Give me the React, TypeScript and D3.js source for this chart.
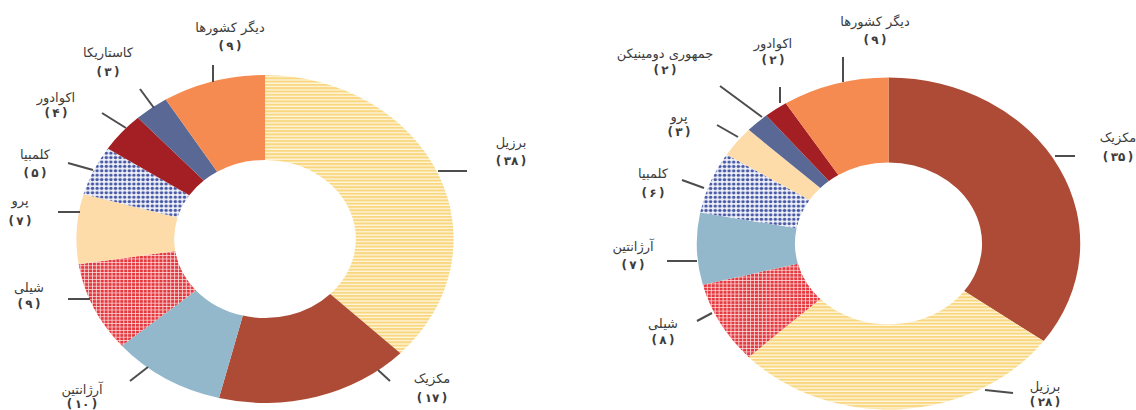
import React from "react";
import * as d3 from "d3";

// ---------- data ----------
const leftCategories = ["برزیل", "مکزیک", "آرژانتین", "شیلی", "پرو", "کلمبیا", "اکوادور", "کاستاریکا", "دیگر کشورها"];
const leftValues = [38, 17, 10, 9, 7, 5, 4, 3, 9];

const rightCategories = ["مکزیک", "برزیل", "شیلی", "آرژانتین", "کلمبیا", "پرو", "جمهوری دومینیکن", "اکوادور", "دیگر کشورها"];
const rightValues = [35, 28, 8, 7, 6, 3, 2, 2, 9];

// ---------- styles ----------
const fills: Record<string, string> = {
  "برزیل": "url(#pBrazil)",
  "مکزیک": "#AD4B36",
  "آرژانتین": "#93B8CC",
  "شیلی": "url(#pChile)",
  "پرو": "#FDDCAA",
  "کلمبیا": "url(#pColombia)",
  "اکوادور": "#A41F24",
  "کاستاریکا": "#5A6895",
  "جمهوری دومینیکن": "#5A6895",
  "دیگر کشورها": "#F58B50",
};

// label layout: leader line [x1,y1,x2,y2], text x, name y, number y
type Lab = { line: number[]; x: number; ny: number; vy: number };
const leftLayout: Lab[] = [
  { line: [438, 171, 467, 171], x: 511, ny: 142, vy: 161 },
  { line: [378, 370, 390, 381], x: 432, ny: 378, vy: 398 },
  { line: [148, 367, 130, 381], x: 82, ny: 389, vy: 404 },
  { line: [90, 299, 68, 299], x: 29, ny: 287, vy: 304 },
  { line: [80, 212, 58, 212], x: 20, ny: 200, vy: 221 },
  { line: [93, 170, 68, 163], x: 35, ny: 154, vy: 173 },
  { line: [126, 128, 102, 113], x: 56, ny: 97, vy: 113 },
  { line: [154, 108, 140, 89], x: 108, ny: 52, vy: 72 },
  { line: [213, 82, 213, 65], x: 230, ny: 27, vy: 46 },
];
const rightLayout: Lab[] = [
  { line: [1055, 156, 1075, 156], x: 1118, ny: 137, vy: 157 },
  { line: [985, 390, 1013, 393], x: 1045, ny: 386, vy: 402 },
  { line: [712, 313, 697, 321], x: 663, ny: 323, vy: 340 },
  { line: [697, 261, 667, 261], x: 633, ny: 246, vy: 265 },
  { line: [704, 188, 682, 180], x: 653, ny: 173, vy: 193 },
  { line: [738, 137, 717, 125], x: 679, ny: 116, vy: 132 },
  { line: [762, 117, 720, 86], x: 665, ny: 53, vy: 70 },
  { line: [780, 103, 780, 87], x: 773, ny: 43, vy: 60 },
  { line: [843, 82, 843, 57], x: 875, ny: 21, vy: 40 },
];

const faDigits = "۰۱۲۳۴۵۶۷۸۹";
const toFa = (n: number) => String(n).replace(/\d/g, (d) => faDigits[+d]);

type DonutProps = {
  cats: string[];
  vals: number[];
  layout: Lab[];
  cx: number;
  cy: number;
  r: number;
  ri: number;
  sx: number;
};

function Donut({ cats, vals, layout, cx, cy, r, ri, sx }: DonutProps) {
  const pie = d3.pie<number>().sort(null).value((d) => d);
  const arcs = pie(vals);
  const arc = d3.arc<d3.PieArcDatum<number>>().innerRadius(ri).outerRadius(r);
  return (
    <g>
      <g transform={`translate(${cx},${cy}) scale(${sx},1)`}>
        {arcs.map((a, i) => (
          <path key={i} d={arc(a) || ""} fill={fills[cats[i]]} stroke="none" />
        ))}
      </g>
      {layout.map((l, i) => (
        <g key={i}>
          <line x1={l.line[0]} y1={l.line[1]} x2={l.line[2]} y2={l.line[3]} stroke="#4d4d4d" strokeWidth={2} />
          <text
            x={l.x}
            y={l.ny}
            textAnchor="middle"
            dominantBaseline="central"
            direction="rtl"
            fontFamily="DejaVu Sans"
            fontSize={13}
            fill="#3c3c3c"
          >
            {cats[i]}
          </text>
          <text
            x={l.x}
            y={l.vy}
            textAnchor="middle"
            dominantBaseline="central"
            direction="rtl"
            fontFamily="DejaVu Sans"
            fontSize={12}
            fontWeight="bold"
            fill="#3c3c3c"
          >
            {"(\u2009" + toFa(vals[i]) + "\u2009)"}
          </text>
        </g>
      ))}
    </g>
  );
}

export default function App() {
  return (
    <svg
      width={1136}
      height={410}
      style={{ position: "absolute", left: 0, top: 0, background: "#fff" }}
    >
      <defs>
        <pattern id="pBrazil" patternUnits="userSpaceOnUse" width={6} height={3.3}>
          <rect width={6} height={3.3} fill="#FFF6E0" />
          <rect width={6} height={2} fill="#F9D77F" />
        </pattern>
        <pattern id="pChile" patternUnits="userSpaceOnUse" width={3.4} height={3.4}>
          <rect width={3.4} height={3.4} fill="#FBE3E3" />
          <rect width={2.7} height={2.7} fill="#E6393F" />
        </pattern>
        <pattern id="pColombia" patternUnits="userSpaceOnUse" width={4} height={4.4}>
          <rect width={4} height={4.4} fill="#EEF0F8" />
          <circle cx={2} cy={2.2} r={1.5} fill="#4657A3" />
        </pattern>
      </defs>
      <Donut cats={leftCategories} vals={leftValues} layout={leftLayout} cx={265} cy={239} r={164} ri={79} sx={1.15} />
      <Donut cats={rightCategories} vals={rightValues} layout={rightLayout} cx={888.5} cy={243.5} r={166} ri={81} sx={1.155} />
    </svg>
  );
}
